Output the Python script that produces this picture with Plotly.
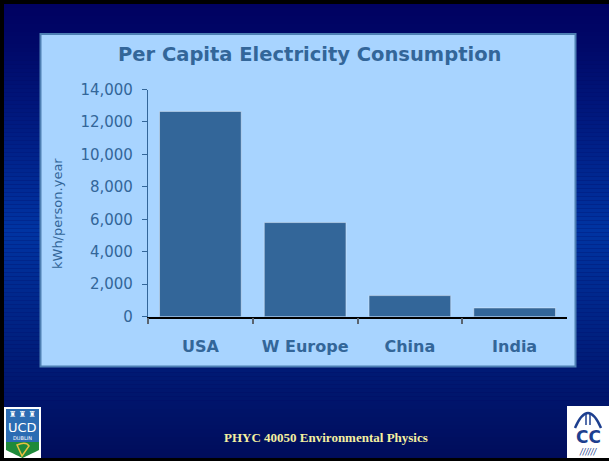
import plotly.graph_objects as go

# Data
regions = ["USA", "W Europe", "China", "India"]
consumption = [12650, 5800, 1300, 540]  # kWh per person per year
y_ticks = [0, 2000, 4000, 6000, 8000, 10000, 12000, 14000]

W, H = 609, 461
TXT = "#336699"


def px(x):
    return x / W


def py(y):
    return 1 - y / H


def hex2rgb(h):
    h = h.lstrip("#")
    return tuple(int(h[i:i + 2], 16) for i in (0, 2, 4))


def lerp_color(stops, t):
    for (t0, c0), (t1, c1) in zip(stops, stops[1:]):
        if t0 <= t <= t1:
            f = (t - t0) / (t1 - t0) if t1 > t0 else 0
            a, b = hex2rgb(c0), hex2rgb(c1)
            r = [round(a[i] + (b[i] - a[i]) * f) for i in range(3)]
            return "rgb({},{},{})".format(*r)
    return stops[-1][1]


shapes = []

# slide background: vertical navy-to-blue gradient built from thin bands
grad = [(0.0, "#000060"), (0.1, "#000868"), (0.5, "#0034a2"),
        (0.85, "#00166e"), (1.0, "#000c5a")]
N = 115
for i in range(N):
    t = (i + 0.5) / N
    shapes.append(dict(type="rect", xref="paper", yref="paper", layer="below",
                       x0=0, x1=1, y0=1 - (i + 1) / N, y1=1 - i / N,
                       fillcolor=lerp_color(grad, t), line=dict(width=0)))

# dark frame along top, left and bottom edges
for x0, x1, y0, y1 in [(0, 1, py(4), 1), (0, px(4), 0, 1), (0, 1, 0, py(458))]:
    shapes.append(dict(type="rect", xref="paper", yref="paper", layer="below",
                       x0=x0, x1=x1, y0=y0, y1=y1, fillcolor="black",
                       line=dict(width=0)))

# light chart panel
shapes.append(dict(type="rect", xref="paper", yref="paper", layer="below",
                   x0=px(40.5), x1=px(575.5), y0=py(366.5), y1=py(34),
                   fillcolor="#a8d4ff", line=dict(color="#4d7fb3", width=2)))

# left crest: white frame, blue upper field, green shield with a harp
shapes += [
    dict(type="rect", xref="paper", yref="paper", x0=px(4), x1=px(41),
         y0=py(458), y1=py(407), fillcolor="white", line=dict(width=0)),
    dict(type="rect", xref="paper", yref="paper", x0=px(6), x1=px(39),
         y0=py(442), y1=py(409), fillcolor="#2b6cb3", line=dict(width=0)),
    dict(type="path", xref="paper", yref="paper",
         path="M {a},{b} L {c},{b} L {c},{d} Q {e},{f} {e},{f} Q {e},{f} {a},{d} Z".format(
             a=px(6), b=py(442), c=px(39), d=py(450), e=px(22.5), f=py(458)),
         fillcolor="#1f8a3a", line=dict(width=0)),
    dict(type="path", xref="paper", yref="paper",
         path="M {} {} Q {} {} {} {} L {} {} Z".format(
             px(17), py(445), px(26), py(441), px(29), py(446), px(22), py(456)),
         fillcolor="rgba(0,0,0,0)", line=dict(color="#e8c040", width=1.5)),
]

# right emblem: white tile with an arch
shapes += [
    dict(type="rect", xref="paper", yref="paper", x0=px(567), x1=px(609),
         y0=py(458), y1=py(406), fillcolor="white", line=dict(width=0)),
    dict(type="path", xref="paper", yref="paper",
         path="M {} {} Q {} {} {} {}".format(px(575), py(428), px(588), py(398),
                                              px(601), py(428)),
         fillcolor="rgba(0,0,0,0)", line=dict(color="#1d3f8f", width=2.5)),
    dict(type="line", xref="paper", yref="paper", x0=px(586), x1=px(586),
         y0=py(425), y1=py(414), line=dict(color="#1d3f8f", width=1.5)),
    dict(type="line", xref="paper", yref="paper", x0=px(590), x1=px(590),
         y0=py(425), y1=py(414), line=dict(color="#1d3f8f", width=1.5)),
]

annotations = [
    dict(text="<b>Per Capita Electricity Consumption</b>", x=px(309), y=py(55),
         xref="paper", yref="paper", showarrow=False, xanchor="center",
         yanchor="middle", font=dict(family="DejaVu Sans", size=19.5, color=TXT)),
    dict(text="kWh/person.year", x=px(57), y=py(214), xref="paper", yref="paper",
         showarrow=False, textangle=-90, xanchor="center", yanchor="middle",
         font=dict(family="DejaVu Sans", size=13, color=TXT)),
    dict(text="<b>PHYC 40050 Environmental Physics</b>", x=px(325.5), y=py(437),
         xref="paper", yref="paper", showarrow=False, xanchor="center",
         yanchor="middle",
         font=dict(family="Liberation Serif", size=13, color="#f4f0a0")),
    dict(text="\u265c \u265c \u265c", x=px(22.5), y=py(414), xref="paper",
         yref="paper", showarrow=False, xanchor="center", yanchor="middle",
         font=dict(family="DejaVu Sans", size=8, color="white")),
    dict(text="UCD", x=px(22.5), y=py(427), xref="paper", yref="paper",
         showarrow=False, xanchor="center", yanchor="middle",
         font=dict(family="DejaVu Sans", size=13, color="white")),
    dict(text="DUBLIN", x=px(22.5), y=py(437.5), xref="paper", yref="paper",
         showarrow=False, xanchor="center", yanchor="middle",
         font=dict(family="DejaVu Sans", size=5, color="white")),
    dict(text="<b>CC</b>", x=px(588), y=py(437), xref="paper", yref="paper",
         showarrow=False, xanchor="center", yanchor="middle",
         font=dict(family="DejaVu Sans", size=17, color="#1d3f8f")),
    dict(text="<i>//////</i>", x=px(588), y=py(452), xref="paper", yref="paper",
         showarrow=False, xanchor="center", yanchor="middle",
         font=dict(family="DejaVu Sans", size=8, color="#1d3f8f")),
]

fig = go.Figure(go.Bar(x=regions, y=consumption, marker=dict(color="#336699"),
                       hoverinfo="skip"))

fig.update_layout(
    width=W, height=H, autosize=False,
    margin=dict(l=0, r=0, t=0, b=0, pad=0),
    paper_bgcolor="#000a5e", plot_bgcolor="rgba(0,0,0,0)",
    showlegend=False, bargap=0.22,
    shapes=shapes, annotations=annotations,
    xaxis=dict(domain=[px(148), px(567)], automargin=False, showgrid=False,
               zeroline=False, showline=True, linecolor="black", linewidth=1.5,
               ticks="outside", tickson="boundaries", ticklen=6, tickwidth=2,
               tickcolor="#5a6470", ticklabelstandoff=14,
               tickfont=dict(family="DejaVu Sans", size=16, color=TXT,
                             weight="bold")),
    yaxis=dict(domain=[py(316.7), py(89.5)], range=[0, 14000], automargin=False,
               tickvals=y_ticks, tickformat=",", showgrid=False, zeroline=False,
               showline=True, linecolor=TXT, linewidth=1.2, ticks="outside",
               ticklen=5, tickcolor=TXT, ticklabelstandoff=6,
               tickfont=dict(family="DejaVu Sans", size=15, color=TXT)),
)

fig.write_html("out.html")
